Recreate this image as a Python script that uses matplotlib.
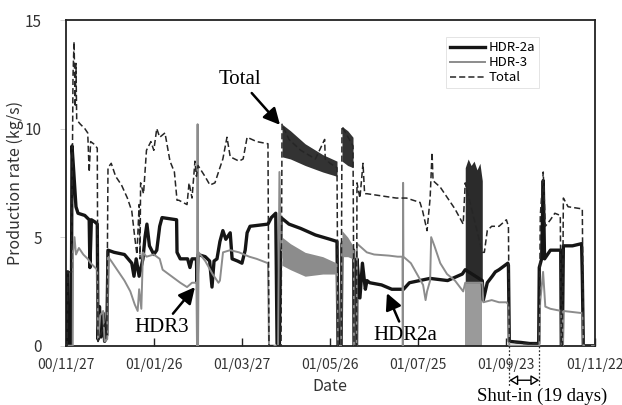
import matplotlib
matplotlib.use("Agg")
import matplotlib.pyplot as plt
import matplotlib.transforms as mtransforms
import matplotlib.dates as mdates
import numpy as np
import pandas as pd

# day offsets from 2000-11-27, values in kg/s
start_date = "2000-11-27"

hdr2a_days = [0, 0.6, 0.9, 1.5, 1.8, 3.8, 4.3, 5.5, 7.0, 8.4, 13, 16, 16.5, 17.5, 19.9, 21.5,
              22.0, 23.0, 24.0, 25.5, 26.5, 28.0, 28.8, 33, 40, 45, 46.5, 48, 50, 52.6, 54,
              55.3, 57, 60, 62, 64, 65.6, 75.5, 75.8, 78, 83, 84.6, 86, 89.0, 89.4, 90.1, 95,
              98, 99.6, 101, 103, 105, 107, 109, 112, 113.3, 117, 120, 122.2, 123.5, 125.5,
              137.7, 140, 143, 143.9, 145.5, 145.9, 146.6, 152, 160, 170, 180, 184.7, 185.4,
              187.5, 188.1, 196, 196.3, 198, 198.3, 200.3, 202, 204, 205.1, 207, 215, 222, 230,
              234, 241, 248, 260, 270, 272, 283.6, 284.3, 287, 290.4, 292.5, 295, 301, 301.4,
              302.0, 310, 316, 322, 322.4, 324, 325.1, 326.0, 330, 337, 337.4, 338.1, 338.8,
              345, 351.2, 351.7, 352.4, 360]
hdr2a_vals = [0, 0, 3.4, 3.4, 0, 0, 9.2, 8.0, 6.4, 6.1, 6.0, 5.8, 3.6, 5.8, 5.7, 5.6,
              0.3, 1.8, 0.4, 1.5, 0.2, 0.5, 4.4, 4.3, 4.2, 3.8, 3.2, 4.0, 3.2, 4.0, 5.0,
              5.6, 4.6, 4.2, 4.4, 5.5, 5.9, 5.8, 4.3, 4.0, 4.0, 3.6, 4.0, 4.0, 2.9, 4.2, 4.1,
              3.9, 2.7, 3.9, 4.0, 4.8, 5.3, 4.9, 5.2, 4.0, 3.9, 3.8, 4.4, 5.2, 5.5,
              5.6, 5.9, 6.1, 0.1, 0.1, 2.5, 5.9, 5.6, 5.4, 5.1, 4.9, 4.8, 0,
              0, 4.7, 4.4, 0, 0, 4.0, 2.2, 3.8, 2.6, 3.0, 2.9, 2.8, 2.6, 2.6,
              2.9, 3.0, 3.1, 3.0, 3.3, 3.5, 3.0, 2.1, 2.9, 3.2, 3.4, 3.5, 3.8, 3.7,
              0.2, 0.15, 0.1, 0.1, 3.6, 4.0, 7.6, 4.0, 4.4, 4.4, 0, 0, 4.6,
              4.6, 4.7, 3.2, 0, 0]

hdr3_days = [0, 4.8, 5.0, 6, 7.0, 9, 12, 15, 17, 20, 21.5, 22.0, 23.5, 25.5, 26.5, 28.3,
             28.8, 31, 35, 40, 44, 47, 49, 50, 51.5, 52.6, 55, 60, 64, 66, 72, 78, 82.6, 86,
             89.0, 89.4, 89.8, 90.1, 90.5, 95, 100, 104, 105, 107.1, 112, 118, 125, 130,
             137.7, 138.4, 144.6, 145.5, 146.6, 147, 160, 175, 184.7, 185.4, 187.5, 188.1,
             196, 196.3, 198, 198.3, 200, 205, 210, 220, 226, 229.3, 229.5, 229.7, 229.9,
             235, 240, 243.3, 245, 246, 248.1, 248.8, 251, 255, 259.6, 265, 270.6, 272,
             283.6, 284.3, 290, 295, 300, 301.4, 302, 322.4, 323, 325, 326.5, 330, 337.4,
             337.6, 338.5, 338.8, 351.7, 352.4, 360]
hdr3_vals = [0, 0, 4.3, 5.0, 4.2, 4.5, 4.2, 4.0, 3.8, 3.6, 3.5, 0.2, 1.4, 1.6, 0.2, 0.3,
             4.1, 3.9, 3.5, 3.0, 2.5, 1.9, 1.6, 2.6, 1.7, 4.3, 4.1, 4.2, 4.0, 3.5, 3.2, 2.9, 2.7, 2.9,
             2.9, 0, 10.2, 0, 4.3, 3.9, 3.3, 2.9, 3.0, 4.3, 4.4, 4.3, 4.1, 4.0,
             3.8, 0, 0, 8.0, 4.6, 4.4, 4.0, 3.7, 3.5, 0, 0, 4.8,
             4.4, 0, 0, 4.7, 4.6, 4.3, 4.2, 4.15, 4.1, 4.1, 0, 7.5, 4.1,
             3.8, 3.2, 2.8, 2.1, 2.5, 3.0, 5.0, 4.6, 3.8, 3.3, 3.0, 2.5, 2.9,
             2.9, 2.0, 2.1, 2.0, 2.0, 1.9, 0, 0, 2.0, 3.4, 1.8, 1.7, 1.6,
             0, 0, 1.6, 1.5, 0, 0]

total_days = [0, 1.0, 1.5, 4.0, 5.0, 5.7, 6.5, 7.0, 7.5, 10, 13, 15, 16.0, 17.0, 19, 21.5,
              22.0, 26.5, 28, 28.8, 31, 34, 38, 42, 45, 47, 48.5, 50, 50.6, 51, 53, 55, 58,
              60, 62, 64, 67.6, 71, 74, 75.8, 77, 82.6, 84, 86, 88, 89.0, 90.1, 94.8, 98.2,
              101.6, 105, 107, 109.8, 112, 118, 120.8, 123.5, 130, 137.7, 138.4, 146.6,
              147.3, 152, 160, 170, 176.3, 176.7, 180, 184.7, 185.4, 187.5, 188.1, 195.6,
              196.3, 198, 198.3, 200.3, 202.4, 203.5, 205.1, 215, 225, 232, 236.5, 241.2,
              243, 246, 248.1, 249.4, 250.1, 255, 260, 265, 270.6, 272, 283.6, 285, 287,
              290, 295, 300, 301.4, 302, 310, 322.4, 323.1, 325.1, 326.5, 330, 333, 336.7,
              337.4, 338.1, 338.8, 342, 351.7, 352.4, 360]
total_vals = [0, 0, 3.4, 3.4, 12.5, 14.0, 11.0, 13.0, 10.4, 10.2, 10.0, 9.8, 8.0, 9.4, 9.3, 9.1,
              0.2, 1.0, 0.5, 8.2, 8.4, 7.8, 7.4, 6.8, 6.2, 5.0, 4.2, 6.5, 4.0, 7.5, 7.0, 9.0, 9.4,
              9.0, 10.0, 9.6, 9.8, 8.5, 8.0, 6.7, 6.7, 6.5, 7.5, 6.8, 8.5, 7.8, 8.3, 7.8, 7.4,
              7.5, 8.2, 8.6, 9.6, 8.7, 8.5, 8.6, 9.6, 9.4, 9.3, 0, 0,
              10.2, 9.5, 9.0, 8.6, 9.5, 8.6, 8.4, 8.2, 0, 0, 10.1, 9.2,
              0, 0, 7.5, 6.8, 8.4, 7.0, 7.0, 6.9, 6.8, 6.8, 6.7, 6.6,
              6.2, 5.3, 6.8, 8.9, 7.6, 7.3, 6.8, 6.3, 5.6, 7.5, 4.3, 4.3, 5.3,
              5.5, 5.5, 5.8, 5.5, 0.2, 0.1, 0.1, 6.0, 8.0, 5.5, 5.8, 6.1, 6.0,
              0, 0, 6.8, 6.4, 6.3, 0, 0]

# noisy bands (min / max envelopes)
band_a_days = [147.3, 153, 163, 175, 184.7]
total_band_lo = [8.7, 8.6, 8.3, 8.0, 7.8]
total_band_hi = [10.2, 9.9, 9.3, 8.8, 8.5]
hdr3_band_lo = [3.7, 3.5, 3.2, 3.3, 3.3]
hdr3_band_hi = [5.0, 4.7, 4.3, 4.1, 3.8]

band_b_days = [188.1, 192, 195.6]
total_band_b_lo = [8.5, 8.3, 8.2]
total_band_b_hi = [10.1, 9.9, 9.6]
hdr3_band_b_lo = [4.1, 4.1, 4.0]
hdr3_band_b_hi = [5.3, 5.0, 4.6]

# dense oscillation block in August/September
block_days = [272.0, 274.0, 276.0, 278.0, 280.0, 282.0, 283.6]
block_dark_lo = [2.9, 2.9, 2.9, 2.9, 2.9, 2.9, 2.9]
block_dark_hi = [8.2, 8.6, 8.3, 8.5, 8.1, 8.4, 7.6]
block_gray_hi = [2.9, 2.9, 2.9, 2.9, 2.9, 2.9, 2.9]

shutin_days = [302.0, 322.4]

tick_dates = ["2000-11-27", "2001-01-26", "2001-03-27", "2001-05-26",
              "2001-07-25", "2001-09-23", "2001-11-22"]


def to_dates(days):
    return pd.Timestamp(start_date) + pd.to_timedelta(np.asarray(days, dtype=float), unit="D")


def day(d):
    return mdates.date2num(to_dates([d])[0])


plt.rcParams["font.family"] = ["Noto Sans CJK JP", "DejaVu Sans"]
serif = "Liberation Serif"

fig = plt.figure(figsize=(6.22, 4.05), dpi=100)
ax = fig.add_axes([0.1056, 0.1464, 0.8502, 0.8042])

dark = "#151515"
gray = "#8c8c8c"

ax.fill_between(to_dates(block_days), 0, block_gray_hi, color="#9a9a9a", lw=0, zorder=2)
ax.fill_between(to_dates(block_days), block_dark_lo, block_dark_hi, color="#2b2b2b", lw=0, zorder=2)

ax.plot(to_dates(hdr2a_days), hdr2a_vals, color=dark, lw=2.4, label="HDR-2a", zorder=3)
ax.fill_between(to_dates(band_a_days), hdr3_band_lo, hdr3_band_hi, color=gray, lw=0, zorder=4)
ax.fill_between(to_dates(band_b_days), hdr3_band_b_lo, hdr3_band_b_hi, color=gray, lw=0, zorder=4)
ax.plot(to_dates(hdr3_days), hdr3_vals, color=gray, lw=1.4, label="HDR-3", zorder=4)
ax.fill_between(to_dates(band_a_days), total_band_lo, total_band_hi, color="#333333", lw=0, zorder=5)
ax.fill_between(to_dates(band_b_days), total_band_b_lo, total_band_b_hi, color="#333333", lw=0, zorder=5)
ax.plot(to_dates(total_days), total_vals, color="#262626", lw=1.1, ls=(0, (4, 2)),
        label="Total", zorder=5)

ax.set_xlim(day(0), day(360))
ax.set_ylim(0, 15)
ax.set_yticks([0, 5, 10, 15])
ax.set_xticks(pd.to_datetime(tick_dates))
ax.xaxis.set_major_formatter(mdates.DateFormatter("%y/%m/%d"))
ax.tick_params(axis="x", direction="in", length=6, width=1, pad=9, labelsize=10,
               color="#222", labelcolor="#333")
ax.tick_params(axis="y", direction="out", length=4, width=0.6, pad=13, labelsize=11,
               color="#cccccc", labelcolor="#333")
for s in ax.spines.values():
    s.set_linewidth(1.3)
    s.set_color("#222")

ax.set_xlabel("Date", fontsize=11.5, labelpad=4, color="#333")
ax.set_ylabel("Production rate (kg/s)", fontsize=11.5, labelpad=1, color="#333")

leg = ax.legend(loc="upper left", bbox_to_anchor=(0.72, 0.947), fontsize=9.5, frameon=True,
                fancybox=False, borderpad=0.3, labelspacing=0.15, handlelength=2.6,
                handletextpad=0.3, borderaxespad=0)
leg.get_frame().set_edgecolor("#d8d8d8")
leg.get_frame().set_linewidth(0.6)

arrow = dict(arrowstyle="-|>,head_length=0.7,head_width=0.35", color="black", lw=1.8,
             shrinkA=1, shrinkB=0, mutation_scale=14)
ax.annotate("Total", xy=(day(145.9), 10.17), xytext=(day(118.6), 12.25),
            fontsize=15, family=serif, ha="center", va="center", arrowprops=arrow, zorder=8)
ax.annotate("HDR3", xy=(day(88.0), 2.70), xytext=(day(65.5), 0.86),
            fontsize=15, family=serif, ha="center", va="center", arrowprops=arrow, zorder=8)
ax.annotate("HDR2a", xy=(day(218.7), 2.42), xytext=(day(231.0), 0.49),
            fontsize=15, family=serif, ha="center", va="center", arrowprops=arrow, zorder=8)

trans = mtransforms.blended_transform_factory(ax.transData, ax.transAxes)
for d in shutin_days:
    ax.plot([day(d)] * 2, [0, -0.125], transform=trans, color="#333", lw=0.9,
            ls=(0, (1.5, 1.5)), clip_on=False, zorder=6)
ax.annotate("", xy=(day(shutin_days[0]), -0.106), xytext=(day(shutin_days[1]), -0.106),
            xycoords=trans, textcoords=trans,
            arrowprops=dict(arrowstyle="<|-|>,head_length=0.5,head_width=0.3", fc="white",
                            ec="black", lw=1.0, shrinkA=0, shrinkB=0))
ax.text(day(324.2), -0.157, "Shut-in (19 days)", transform=trans, fontsize=13.5,
        family=serif, ha="center", va="center", clip_on=False)

fig.savefig("out.png", dpi=100)
